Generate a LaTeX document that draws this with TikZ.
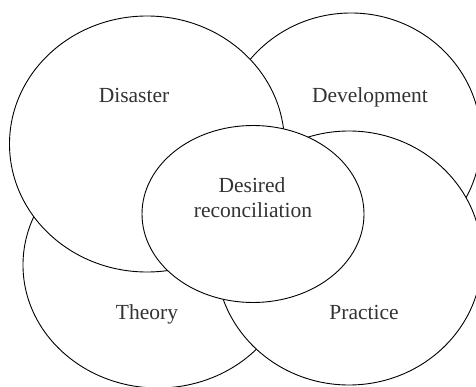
\documentclass[tikz,border=0pt]{standalone}
\usepackage{fontspec}
\setmainfont{Liberation Serif}
\usetikzlibrary{shapes.geometric}
\begin{document}
\begin{tikzpicture}[x=1pt,y=-1pt,
  blob/.style={draw=black, fill=white, line width=0.9pt, ellipse, inner sep=0pt},
  lbl/.style={anchor=base, text=black!80, font=\fontsize{21.5}{25}\selectfont}]
\useasboundingbox (0,0) rectangle (476,387);
\begin{scope}
\clip (0,0) rectangle (476,387);
\node[blob, minimum width=270pt, minimum height=246pt] (theory) at (158,265) {};
\node[blob, minimum width=260pt, minimum height=252pt] (development) at (351,139) {};
\node[blob, minimum width=275pt, minimum height=256pt] (disaster) at (147,144) {};
\node[blob, minimum width=266pt, minimum height=254pt] (practice) at (349,258) {};
\node[blob, minimum width=222pt, minimum height=177pt] (reconciliation) at (253,214) {};
\end{scope}
\node[lbl] (tdis) at (134,103) {Disaster};
\node[lbl] (tdev) at (370,103) {Development};
\node[lbl] (tdes) at (252,193) {Desired};
\node[lbl] (trec) at (253,218) {reconciliation};
\node[lbl] (tthe) at (147,319) {Theory};
\node[lbl] (tpra) at (364,319) {Practice};
\end{tikzpicture}
\end{document}
